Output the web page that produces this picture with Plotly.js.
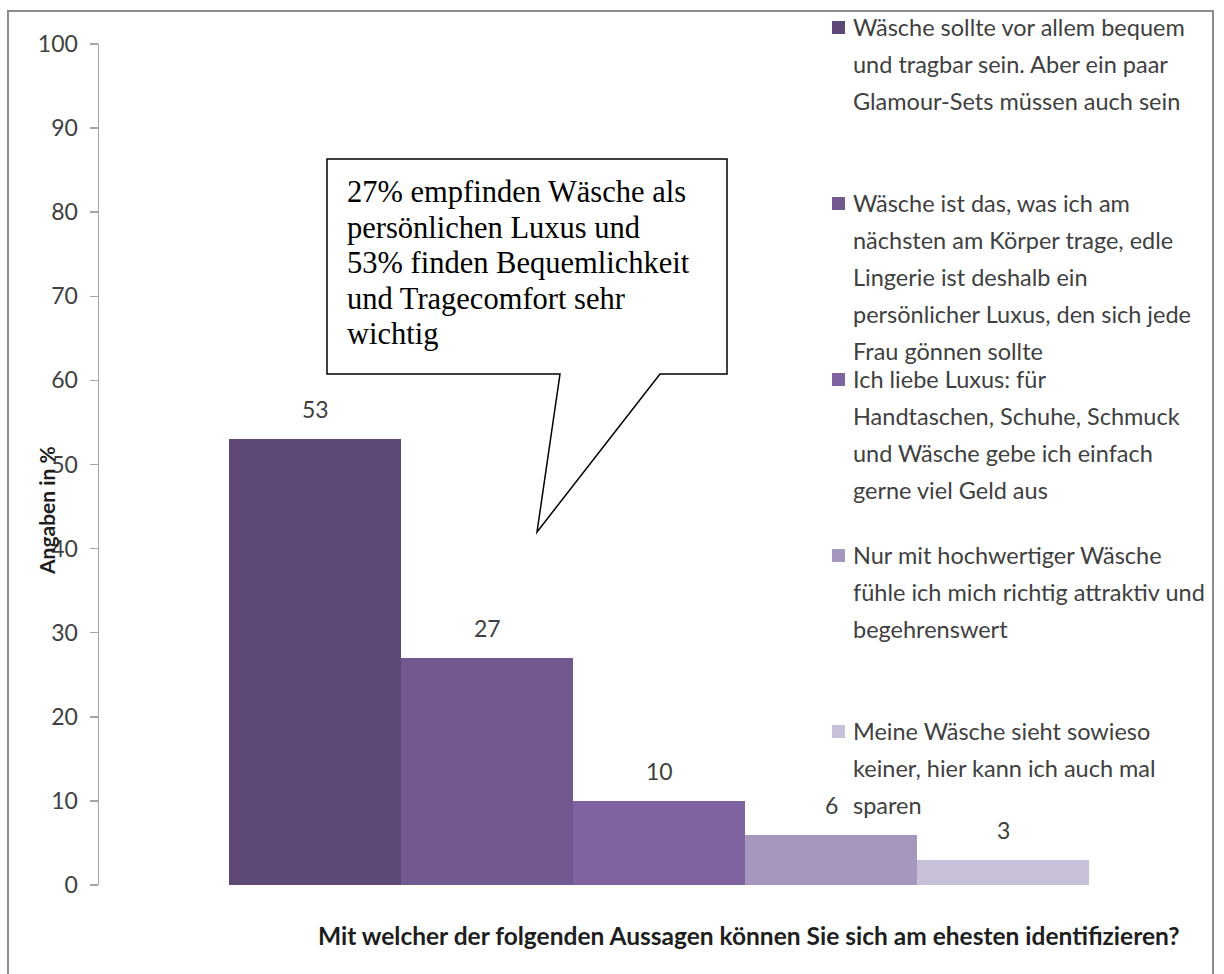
<!DOCTYPE html>
<html>
<head>
<meta charset="utf-8">
<script src="https://cdn.plot.ly/plotly-3.0.1.min.js"></script>
<style>html,body{margin:0;padding:0;background:#fff;}</style>
</head>
<body>
<div id="chart" style="width:1224px;height:974px;"></div>
<script>
const categories = [
  "Wäsche sollte vor allem bequem<br>und tragbar sein. Aber ein paar<br>Glamour-Sets müssen auch sein",
  "Wäsche ist das, was ich am<br>nächsten am Körper trage, edle<br>Lingerie ist deshalb ein<br>persönlicher Luxus, den sich jede<br>Frau gönnen sollte",
  "Ich liebe Luxus: für<br>Handtaschen, Schuhe, Schmuck<br>und Wäsche gebe ich einfach<br>gerne viel Geld aus",
  "Nur mit hochwertiger Wäsche<br>fühle ich mich richtig attraktiv und<br>begehrenswert",
  "Meine Wäsche sieht sowieso<br>keiner, hier kann ich auch mal<br>sparen"
];
const values = [53, 27, 10, 6, 3];
const valueLabels = ["53", "27", "10", "6", "3"];
const barColors = ["#5e4875", "#71588f", "#8064a2", "#a597be", "#c8bfd8"];
const yTicks = [0, 10, 20, 30, 40, 50, 60, 70, 80, 90, 100];
const xAxisTitle = "Mit welcher der folgenden Aussagen können Sie sich am ehesten identifizieren?";
const yAxisTitle = "Angaben in %";
const calloutText = "27% empfinden Wäsche als<br>persönlichen Luxus und<br>53% finden Bequemlichkeit<br>und Tragecomfort sehr<br>wichtig";

const W = 1224, H = 974;
const M = {l: 99, r: 34, t: 44, b: 89};
const PW = W - M.l - M.r, PH = H - M.t - M.b;
const px = X => (X - M.l) / PW;
const py = Y => (H - M.b - Y) / PH;

const sans = "Lato, 'Noto Sans', sans-serif";
const textCol = "#404040";

const trace = {
  type: "bar",
  x: categories,
  y: values,
  marker: {color: barColors, line: {width: 0}},
  hoverinfo: "none",
  showlegend: false
};

const annotations = [];
const shapes = [];

// value labels above bars
values.forEach((v, i) => {
  annotations.push({
    xref: "x", yref: "y", x: categories[i], y: v,
    yshift: 30, yanchor: "middle", xanchor: "center",
    text: valueLabels[i], showarrow: false,
    font: {family: sans, size: 23, color: textCol}
  });
});

// legend (manual, one line per annotation to match spacing)
categories.forEach((label, i) => {
  const y0 = 27 + 176 * i;
  shapes.push({
    type: "rect", xref: "paper", yref: "paper",
    x0: px(832), x1: px(845), y0: py(y0 + 7), y1: py(y0 - 6),
    fillcolor: barColors[i], line: {width: 0}
  });
  label.split("<br>").forEach((line, j) => {
    annotations.push({
      xref: "paper", yref: "paper", x: px(851), y: py(y0 + 37 * j),
      xanchor: "left", yanchor: "middle", text: line, showarrow: false,
      font: {family: sans, size: 23.5, color: textCol}
    });
  });
});

// axis titles
annotations.push({
  xref: "paper", yref: "paper", x: px(749), y: py(935),
  xanchor: "center", yanchor: "middle", text: "<b>" + xAxisTitle + "</b>",
  showarrow: false, font: {family: sans, size: 24.5, color: "#1e1e1e"}
});
annotations.push({
  xref: "paper", yref: "paper", x: px(46), y: py(511),
  xanchor: "center", yanchor: "middle", text: "<b>" + yAxisTitle + "</b>",
  textangle: -90, showarrow: false, font: {family: sans, size: 21, color: "#1e1e1e"}
});

// callout
const pts = [[327,159],[727,159],[727,374],[660,374],[537,532],[560,374],[327,374]];
const path = pts.map((p, k) => (k ? "L" : "M") + px(p[0]).toFixed(5) + "," + py(p[1]).toFixed(5)).join(" ") + " Z";
shapes.push({
  type: "path", xref: "paper", yref: "paper", path: path,
  fillcolor: "#ffffff", line: {color: "#000000", width: 1.5}
});
calloutText.split("<br>").forEach((line, j) => {
  annotations.push({
    xref: "paper", yref: "paper", x: px(345), y: py(192 + 35.5 * j),
    xanchor: "left", yanchor: "middle", align: "left",
    text: line, showarrow: false,
    font: {family: "'Liberation Serif', 'Times New Roman', serif", size: 30.5, color: "#000"}
  });
});

// outer border
shapes.push({
  type: "rect", xref: "paper", yref: "paper",
  x0: px(8), x1: px(1213), y0: py(990), y1: py(11),
  line: {color: "#8c8c8c", width: 2}, fillcolor: "rgba(0,0,0,0)"
});

const layout = {
  width: W, height: H,
  margin: M,
  paper_bgcolor: "#ffffff", plot_bgcolor: "#ffffff",
  bargap: 0,
  xaxis: {
    type: "category", range: [-(315 - M.l) / 172, -(315 - M.l) / 172 + PW / 172],
    showline: false, showticklabels: false, ticks: "", showgrid: false, zeroline: false
  },
  yaxis: {
    range: [0, 100], tickvals: yTicks, showgrid: false, zeroline: false,
    showline: true, linecolor: "#a6a6a6", linewidth: 1.5,
    ticks: "outside", ticklen: 8, tickcolor: "#a6a6a6", tickwidth: 1.5,
    ticklabelstandoff: 7,
    tickfont: {family: sans, size: 23, color: textCol}
  },
  annotations: annotations,
  shapes: shapes
};

Plotly.newPlot("chart", [trace], layout, {displayModeBar: false, staticPlot: true});
</script>
</body>
</html>
